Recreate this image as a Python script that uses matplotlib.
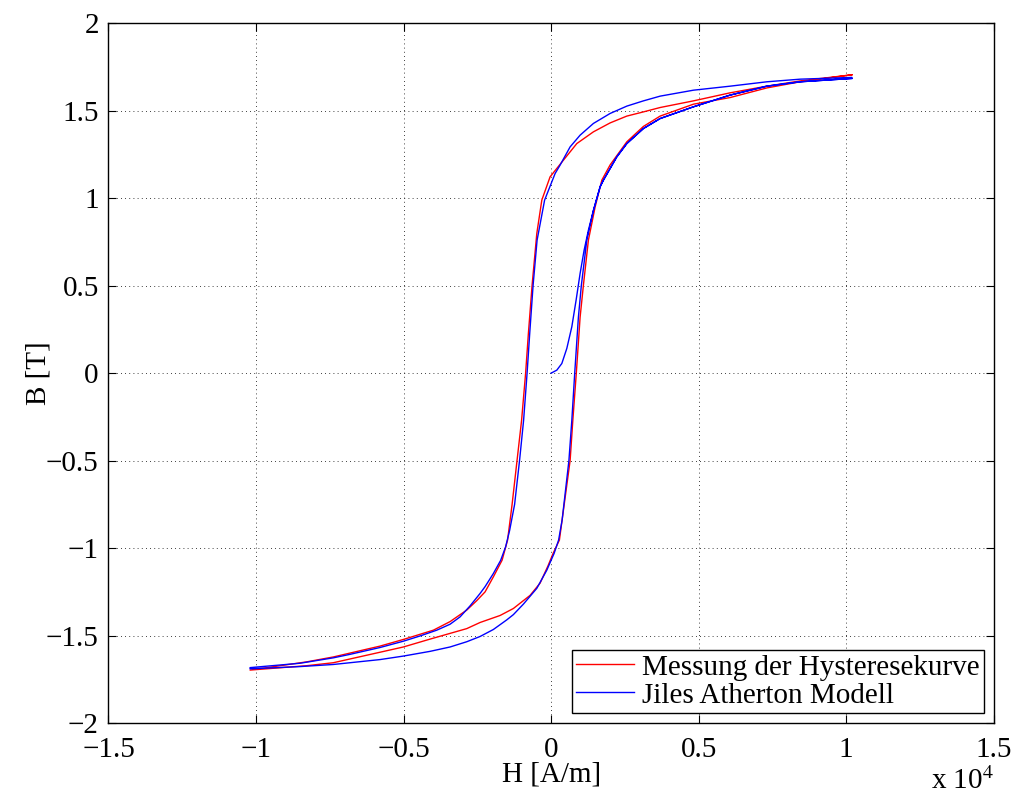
import matplotlib
matplotlib.use('Agg')
import matplotlib.pyplot as plt
import numpy as np

plt.rcParams['font.family'] = ['Liberation Serif', 'DejaVu Serif']
plt.rcParams['mathtext.fontset'] = 'stix'

# Messung (red): descending branch, then ascending branch  (H in A/m, B in T)
H_meas_down = [10193, 8441, 7312, 6068, 4824, 3695, 3129, 2566, 2000, 1434, 871, 417, -34,
               -315, -485, -644, -770, -864, -1000, -1153, -1322, -1475, -1661, -1956, -2237,
               -2519, -2858, -3424, -3990, -5007, -5797, -7380, -8281, -10203]
B_meas_down = [1.705, 1.670, 1.640, 1.602, 1.556, 1.518, 1.493, 1.469, 1.430, 1.379, 1.312, 1.217, 1.122,
               0.989, 0.798, 0.503, 0.227, 0.0, -0.269, -0.497, -0.750, -0.954, -1.069, -1.164, -1.250,
               -1.300, -1.354, -1.420, -1.469, -1.522, -1.560, -1.622, -1.650, -1.697]
H_meas_up = [-10203, -8281, -7380, -5797, -5007, -4102, -2858, -2407, -1729, -1278, -712, -373,
             -102, 68, 281, 644, 736, 854, 983, 1095, 1264, 1492, 1719, 2000, 2566, 3129, 3695, 4824,
             6068, 7312, 8441, 10193]
B_meas_up = [-1.697, -1.672, -1.655, -1.595, -1.565, -1.520, -1.460, -1.425, -1.385, -1.345, -1.270, -1.200,
             -1.100, -1.030, -0.954, -0.500, -0.270, 0.0, 0.320, 0.503, 0.760, 0.950, 1.103, 1.190, 1.322,
             1.410, 1.469, 1.537, 1.575, 1.630, 1.665, 1.705]

# Jiles-Atherton (blue): initial curve, descending branch, ascending branch
H_ja_init = [0, 193, 363, 532, 702, 847, 983, 1119, 1264, 1434, 1661, 1773, 2227, 2566, 3129,
             3695, 4824, 6068, 7312, 8441, 10193]
B_ja_init = [0.0, 0.017, 0.055, 0.141, 0.265, 0.417, 0.570, 0.703, 0.817, 0.930, 1.065, 1.103, 1.236, 1.312,
             1.398, 1.455, 1.522, 1.589, 1.640, 1.665, 1.684]
H_ja_down = [10193, 8441, 7312, 6068, 4824, 3695, 3129, 2566, 2000, 1434, 983, 644, 305, 136,
             -220, -475, -610, -725, -814, -932, -1068, -1237, -1407, -1542, -1710, -1956, -2237,
             -2407, -2746, -3085, -3424, -3875, -4441, -5007, -5797, -6814, -7380, -8508, -10203]
B_ja_down = [1.690, 1.680, 1.665, 1.640, 1.617, 1.583, 1.556, 1.526, 1.484, 1.427, 1.360, 1.293, 1.189, 1.141,
             0.989, 0.760, 0.503, 0.227, 0.0, -0.269, -0.497, -0.750, -0.900, -0.993, -1.070, -1.145, -1.220,
             -1.259, -1.330, -1.393, -1.435, -1.469, -1.502, -1.532, -1.568, -1.607, -1.627, -1.658, -1.683]
H_ja_up = [-10203, -8508, -7380, -5797, -5007, -4102, -3424, -2858, -2407, -1956, -1502, -1278,
           -939, -485, -146, 102, 254, 373, 603, 702, 800, 925, 1024, 1210, 1434, 1661, 1773, 2227,
           2566, 3129, 3695, 4824, 6068, 7312, 8441, 10193]
B_ja_up = [-1.690, -1.677, -1.665, -1.637, -1.617, -1.590, -1.565, -1.535, -1.505, -1.465, -1.410, -1.380,
           -1.320, -1.230, -1.126, -1.030, -0.954, -0.840, -0.500, -0.270, 0.0, 0.320, 0.500, 0.760, 0.930,
           1.065, 1.103, 1.236, 1.312, 1.398, 1.455, 1.522, 1.589, 1.640, 1.665, 1.684]

H_meas = np.array(H_meas_down + H_meas_up) / 1e4
B_meas = np.array(B_meas_down + B_meas_up)
H_ja = np.array(H_ja_init + H_ja_down + H_ja_up) / 1e4
B_ja = np.array(B_ja_init + B_ja_down + B_ja_up)

fig = plt.figure(figsize=(10.14, 7.99), dpi=100)
ax = fig.add_axes([0.107, 0.095, 0.873, 0.876])

ax.plot(H_meas, B_meas, color='red', lw=1.0, label='Messung der Hysteresekurve')
ax.plot(H_ja, B_ja, color='blue', lw=1.0, label='Jiles Atherton Modell')

ax.set_xlim(-1.5, 1.5)
ax.set_ylim(-2, 2)
ax.set_xticks(np.arange(-1.5, 1.51, 0.5))
ax.set_yticks(np.arange(-2, 2.01, 0.5))
ax.set_xticklabels(['\u22121.5', '\u22121', '\u22120.5', '0', '0.5', '1', '1.5'])
ax.set_yticklabels(['\u22122', '\u22121.5', '\u22121', '\u22120.5', '0', '0.5', '1', '1.5', '2'])
ax.tick_params(direction='in', length=6, width=0.8, top=True, right=True, labelsize=21)
ax.tick_params(axis='x', pad=10)
ax.tick_params(axis='y', pad=7)
ax.grid(True, linestyle=(0, (1, 4)), color='black', lw=0.6)
for s in ax.spines.values():
    s.set_linewidth(1.0)

ax.set_xlabel('H [A/m]', fontsize=21, labelpad=-1)
ax.set_ylabel('B [T]', fontsize=21, labelpad=-4)
fig.text(0.918, 0.012, r'x 10$^{4}$', fontsize=21)

leg = ax.legend(loc='lower right', fontsize=21, fancybox=False, framealpha=1,
                edgecolor='black', borderaxespad=0.35, handlelength=2.0,
                handletextpad=0.25, borderpad=0.15, labelspacing=0.05)
leg.get_frame().set_linewidth(1.0)

fig.savefig('out.png', dpi=100)
